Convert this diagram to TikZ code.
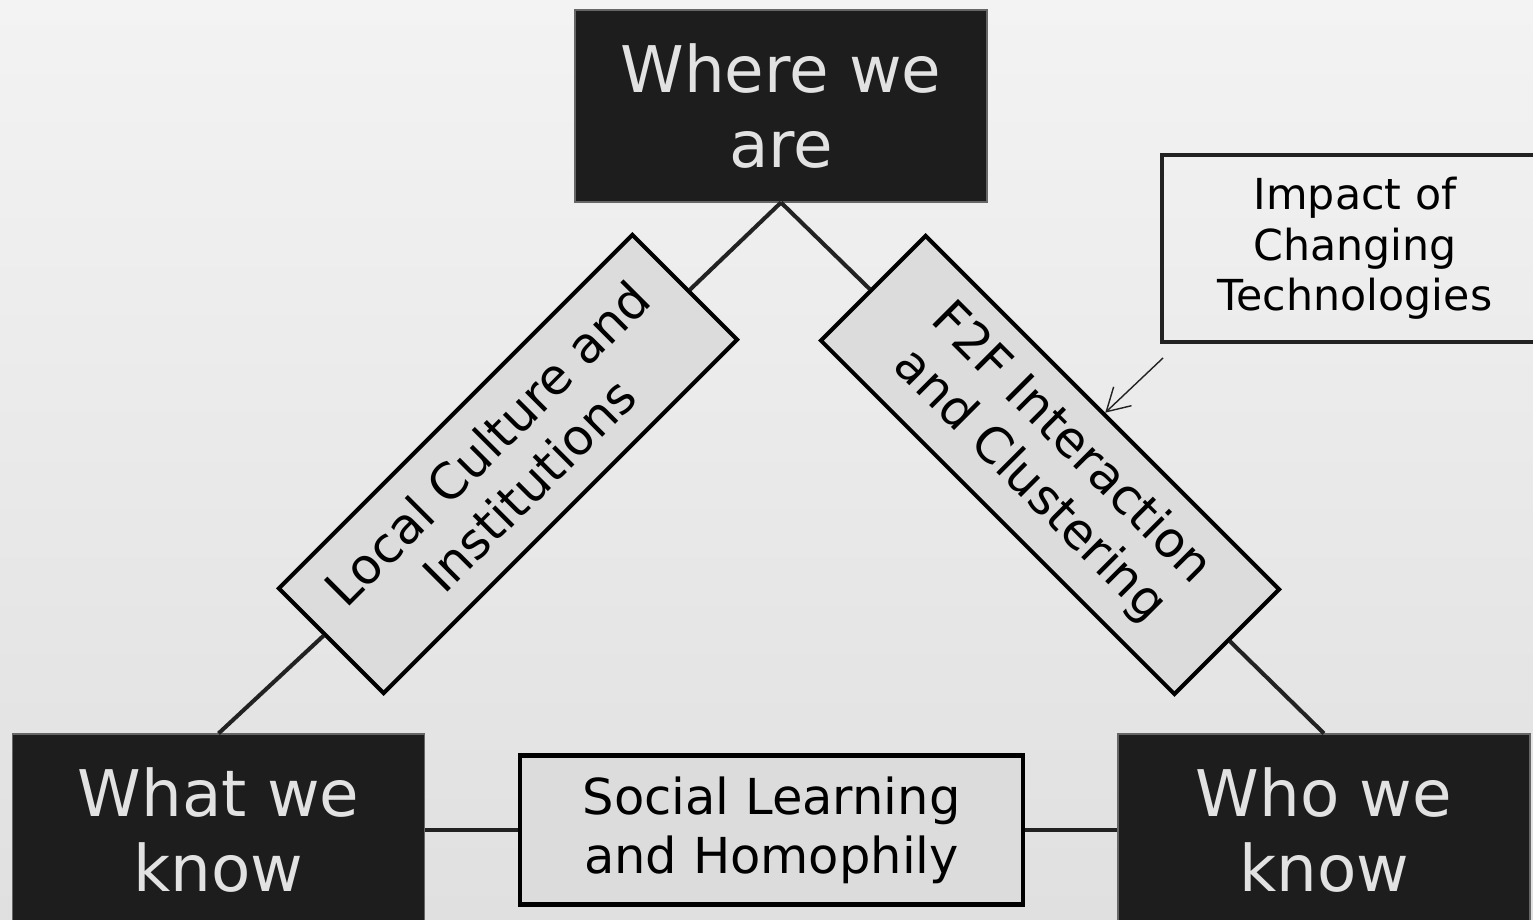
\documentclass[tikz,border=0pt]{standalone}
\usepackage{fontspec}
\setmainfont{DejaVu Sans}
\usetikzlibrary{arrows.meta}
\definecolor{bgtop}{HTML}{F3F3F3}
\definecolor{bgbottom}{HTML}{E0E0E0}
\definecolor{boxdark}{HTML}{1D1D1D}
\definecolor{textlight}{HTML}{E2E2E2}
\definecolor{linkfill}{HTML}{DCDCDC}
\definecolor{edgegray}{HTML}{222222}

\begin{document}
\begin{tikzpicture}[every node/.style={align=center, inner sep=0pt},
    place/.style={rectangle, draw=gray!80!black, line width=0.6pt, fill=boxdark, text=textlight,
        minimum width=8.24cm, minimum height=3.84cm, font=\fontsize{36.6}{42.7}\selectfont},
    link/.style={rectangle, draw=black, line width=2.3pt, fill=linkfill,
        minimum width=10cm, minimum height=2.96cm, font=\fontsize{28.2}{33.5}\selectfont},
    edge/.style={draw=edgegray, line width=2.3pt}]
        % Background
        \shade[top color=bgtop, bottom color=bgbottom] (0,0) rectangle (30.66,18.4);
        \useasboundingbox (0,0) rectangle (30.66,18.4);

        % Corner boxes
        \node[place] (where) at (15.62, 16.28) {Where we\\are};
        \node[place] (what) at (4.37, 1.8) {What we\\know};
        \node[place] (who) at (26.48, 1.8) {Who we\\know};

        % Link boxes
        \node[link, rotate=45] (culture) at (10.16, 9.12) {Local Culture and\\Institutions};
        \node[link, rotate=-45] (f2f) at (21.0, 9.1) {F2F Interaction\\and Clustering};
        \node[link, minimum width=10.06cm, minimum height=2.98cm] (social) at (15.43, 1.8) {Social Learning\\and Homophily};

        % Side note
        \node[rectangle, draw=edgegray, line width=2.8pt, minimum width=7.72cm, minimum height=3.74cm,
            font=\fontsize{24.3}{28.8}\selectfont] (tech) at (27.1, 13.43) {Impact of\\Changing\\Technologies};
        \coordinate (techtip) at (23.26, 11.24);

        % Connectors
        \draw[edge] (where.south) -- (culture);
        \draw[edge] (culture) -- (what.north);
        \draw[edge] (where.south) -- (f2f);
        \draw[edge] (f2f) -- (who.north);
        \draw[edge] (what.east) -- (social);
        \draw[edge] (social) -- (who.west);
        \draw[-{Straight Barb[length=4.5mm, width=5.2mm]}, draw=edgegray, line width=0.8pt] (techtip) -- (f2f);
    \end{tikzpicture}
\end{document}
